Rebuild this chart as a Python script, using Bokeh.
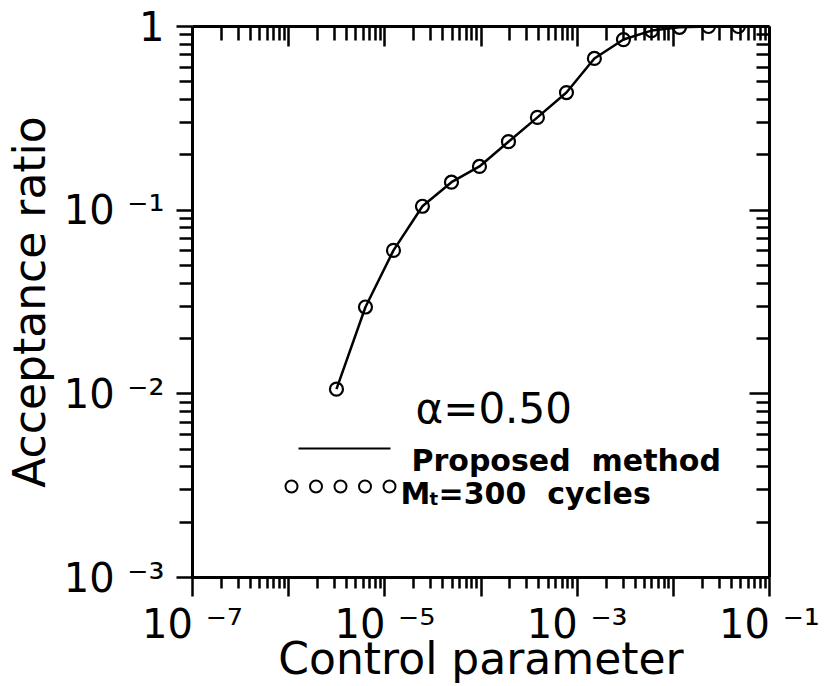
import math
from bokeh.plotting import figure
from bokeh.models import LogAxis, FixedTicker, Label, CustomJSTickFormatter
from bokeh.embed import file_html
from bokeh.resources import INLINE

# ---- data ----
control = [3.14e-6, 6.29e-6, 1.23e-5, 2.46e-5, 4.93e-5, 9.64e-5, 1.93e-4,
           3.86e-4, 7.74e-4, 1.51e-3, 3.03e-3, 5.93e-3, 1.16e-2, 2.32e-2, 4.75e-2]
acceptance = [0.0106, 0.0297, 0.0604, 0.105, 0.142, 0.173, 0.236,
              0.320, 0.437, 0.670, 0.849, 0.95, 0.99, 1.0, 1.0]

x_decades = [-7, -6, -5, -4, -3, -2, -1]
y_decades = [-3, -2, -1, 0]
x_label_exps = [-7, -5, -3, -1]
x_label_texts = ["10 \u207b\u2077", "10 \u207b\u2075", "10 \u207b\u00b3", "10 \u207b\u00b9"]
y_label_exps = [0, -1, -2, -3]
y_label_texts = ["1", "10 \u207b\u00b9", "10 \u207b\u00b2", "10 \u207b\u00b3"]

title_x = "Control parameter"
title_y = "Acceptance ratio"
legend_alpha = "α=0.50"
legend_line = "Proposed\u00a0\u00a0method"
legend_pts_main = "M"
legend_pts_sub = "t"
legend_pts_rest = "=300\u00a0\u00a0cycles"

FONT = "DejaVu Sans"

W, H = 827, 686
BL, BR, BT, BB = 192, 58, 26, 109
FW, FH = W - BL - BR, H - BT - BB
XMIN, XMAX = 1e-7, 1e-1
YMIN, YMAX = 1e-3, 1.0

p = figure(width=W, height=H, x_axis_type="log", y_axis_type="log",
           x_range=(XMIN, XMAX), y_range=(YMIN, YMAX),
           min_border_left=BL, min_border_right=BR, min_border_top=BT,
           min_border_bottom=BB, toolbar_location=None, output_backend="svg",
           background_fill_color="white", border_fill_color="white")
p.grid.visible = False
p.outline_line_color = None

xmaj = [10.0 ** e for e in x_decades]
xmin = [m * 10.0 ** e for e in x_decades[:-1] for m in range(2, 10)]
ymaj = [10.0 ** e for e in y_decades]
ymin = [m * 10.0 ** e for e in y_decades[:-1] for m in range(2, 10)]

p.add_layout(LogAxis(), "above")
p.add_layout(LogAxis(), "right")

for ax in p.xaxis:
    ax.ticker = FixedTicker(ticks=xmaj, minor_ticks=xmin)
for ax in p.yaxis:
    ax.ticker = FixedTicker(ticks=ymaj, minor_ticks=ymin)

FMT = """
const e = Math.round(Math.log10(tick));
const i = exps.indexOf(e);
return i >= 0 ? texts[i] : "";
"""

for ax in list(p.xaxis) + list(p.yaxis):
    ax.axis_line_width = 3
    ax.axis_line_color = "black"
    ax.major_tick_line_width = 2.5
    ax.minor_tick_line_width = 2.5
    ax.major_tick_line_color = "black"
    ax.minor_tick_line_color = "black"
    ax.major_label_text_font = FONT
    ax.major_label_text_color = "black"
    ax.axis_label_text_font = FONT
    ax.axis_label_text_font_style = "normal"
    ax.axis_label_text_color = "black"

bottom = p.below[0]
bottom.major_tick_out, bottom.major_tick_in = 19, 0
bottom.minor_tick_out, bottom.minor_tick_in = 11, 0
bottom.formatter = CustomJSTickFormatter(args=dict(exps=x_label_exps, texts=x_label_texts), code=FMT)
bottom.major_label_text_font_size = "40px"
bottom.major_label_standoff = 4
bottom.axis_label = title_x
bottom.axis_label_text_font_size = "44px"
bottom.axis_label_standoff = -17

left = p.left[0]
left.major_tick_out, left.major_tick_in = 16, 0
left.minor_tick_out, left.minor_tick_in = 13, 0
left.formatter = CustomJSTickFormatter(args=dict(exps=y_label_exps, texts=y_label_texts), code=FMT)
left.major_label_text_font_size = "40px"
left.major_label_standoff = 12
left.axis_label = title_y
left.axis_label_text_font_size = "44px"
left.axis_label_standoff = 6

top = p.above[0]
top.major_tick_out, top.major_tick_in = 0, 20
top.minor_tick_out, top.minor_tick_in = 0, 14
right = p.right[0]
right.major_tick_out, right.major_tick_in = 0, 20
right.minor_tick_out, right.minor_tick_in = 0, 13
for ax in (top, right):
    ax.formatter = CustomJSTickFormatter(code="return ''")
    ax.major_label_text_font_size = "8px"
    ax.major_label_standoff = 0

# ---- data ----
p.line(control, acceptance, line_color="black", line_width=2.5)
p.scatter(control, acceptance, marker="circle", size=13, fill_color=None,
          line_color="black", line_width=2.2)


def lab(text, dx, dy, size, bold=False):
    p.add_layout(Label(x=XMIN, y=YMAX, x_offset=dx, y_offset=dy, text=text,
                       text_font=FONT, text_font_size=f"{size}px",
                       text_font_style="bold" if bold else "normal",
                       text_align="left", text_baseline="alphabetic",
                       text_color="black"))


# ---- legend (positions relative to the frame's top-left corner, px) ----
def fx(px):
    return 10 ** (math.log10(XMIN) + px / FW * math.log10(XMAX / XMIN))


def fy(py):
    return 10 ** (math.log10(YMAX) - py / FH * math.log10(YMAX / YMIN))


lab(legend_alpha, 223, -382, 42)
p.line([fx(106), fx(198)], [fy(422), fy(422)], line_color="black", line_width=2)
lab(legend_line, 219, -434, 30, bold=True)
p.scatter([fx(99 + 24.5 * i) for i in range(5)], [fy(460)] * 5,
          marker="circle", size=12, fill_color=None, line_color="black",
          line_width=2)
lab(legend_pts_main, 208, -467, 30, bold=True)
lab(legend_pts_sub, 237, -472, 18, bold=True)
lab(legend_pts_rest, 246, -467, 30, bold=True)

open("out.html", "w").write(file_html(p, INLINE))
